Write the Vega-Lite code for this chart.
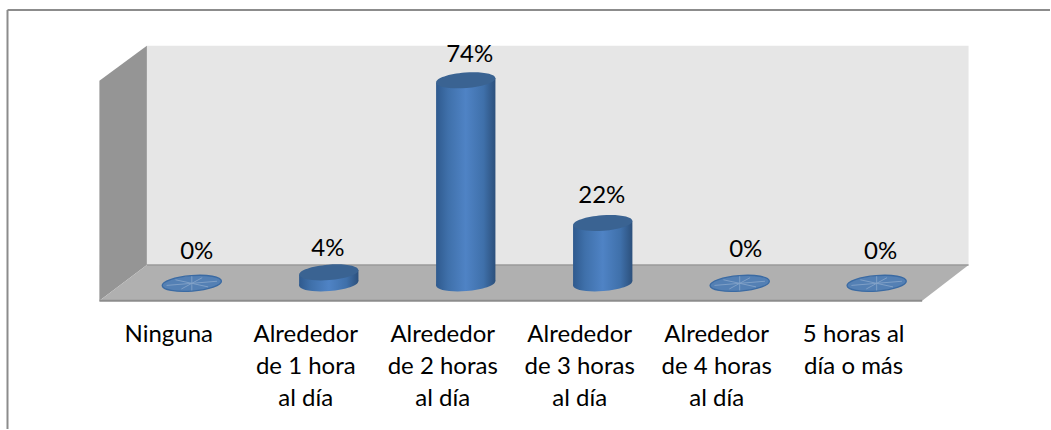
{
"$schema":"https://vega.github.io/schema/vega-lite/v6.json",
"width":1051,"height":430,
"autosize":{"type":"fit","contains":"padding"},
"padding":0,
"background":"white",
"config":{"view":{"stroke":null}},
"datasets":{
"cats":[
{"categoria":"Ninguna","i":0,"valor":0,"etiqueta":"Ninguna"},
{"categoria":"Alrededor de 1 hora al día","i":1,"valor":4,"etiqueta":"Alrededor\nde 1 hora\nal día"},
{"categoria":"Alrededor de 2 horas al día","i":2,"valor":74,"etiqueta":"Alrededor\nde 2 horas\nal día"},
{"categoria":"Alrededor de 3 horas al día","i":3,"valor":22,"etiqueta":"Alrededor\nde 3 horas\nal día"},
{"categoria":"Alrededor de 4 horas al día","i":4,"valor":0,"etiqueta":"Alrededor\nde 4 horas\nal día"},
{"categoria":"5 horas al día o más","i":5,"valor":0,"etiqueta":"5 horas al\ndía o más"}
]},
"encoding":{
"x":{"type":"quantitative","scale":{"domain":[-1.4004,6.2655],"nice":false,"zero":false},"axis":null},
"y":{"type":"quantitative","scale":{"domain":[-53.09,103.27],"nice":false,"zero":false},"axis":null}
},
"layer":[
{"data":{"values":[{"a":-1.3457,"t":99.64,"b":-53.09}]},"mark":{"type":"rule","stroke":"#8c8c8c","strokeWidth":2},
 "encoding":{"x":{"field":"a","type":"quantitative"},"y":{"field":"t","type":"quantitative"},"y2":{"field":"b"}}},
{"data":{"values":[{"a":-1.3457,"c":6.2655,"t":99.64}]},"mark":{"type":"rule","stroke":"#8c8c8c","strokeWidth":2},
 "encoding":{"x":{"field":"a","type":"quantitative"},"x2":{"field":"c"},"y":{"field":"t","type":"quantitative"}}},
{"data":{"values":[{"a":-0.3282,"t":86.55,"b":6.727},{"a":5.671,"t":86.55,"b":6.727}]},"mark":{"type":"area","fill":"#e6e6e6","opacity":1},
 "encoding":{"x":{"field":"a","type":"quantitative"},"y":{"field":"t","type":"quantitative"},"y2":{"field":"b"}}},
{"data":{"values":[{"a":-0.6747,"t":73.82,"b":-6.364},{"a":-0.3282,"t":86.55,"b":6.727}]},"mark":{"type":"area","fill":"#959595","opacity":1},
 "encoding":{"x":{"field":"a","type":"quantitative"},"y":{"field":"t","type":"quantitative"},"y2":{"field":"b"}}},
{"data":{"values":[{"a":-0.6747,"t":-6.364,"b":-6.364},{"a":-0.3282,"t":6.727,"b":-6.364},{"a":5.332,"t":6.727,"b":-6.364},{"a":5.671,"t":6.727,"b":6.727}]},"mark":{"type":"area","fill":"#b0b0b0","opacity":1},
 "encoding":{"x":{"field":"a","type":"quantitative"},"y":{"field":"t","type":"quantitative"},"y2":{"field":"b"}}},
{"data":{"values":[{"a":-0.3282,"c":5.671,"t":6.727}]},"mark":{"type":"rule","stroke":"#9a9a9a","strokeWidth":1.5},
 "encoding":{"x":{"field":"a","type":"quantitative"},"x2":{"field":"c"},"y":{"field":"t","type":"quantitative"}}},
{"data":{"values":[{"a":-0.6747,"c":5.332,"t":-6.364}]},"mark":{"type":"rule","stroke":"#8c8c8c","strokeWidth":2},
 "encoding":{"x":{"field":"a","type":"quantitative"},"x2":{"field":"c"},"y":{"field":"t","type":"quantitative"}}},
{"data":{"name":"cats"},
 "transform":[{"filter":"datum.valor==0"}],
 "mark":{"type":"point","filled":true,"fill":"#5480b4","stroke":"#3a6aa3","strokeWidth":1.3,"opacity":1,"size":3528,
  "shape":"M0.9969,-0.0785 C1.0082,0.0647,0.571,0.2158,0.0204,0.2592 C-0.5302,0.3026,-0.9856,0.2217,-0.9969,0.0785 C-1.0082,-0.0647,-0.571,-0.2158,-0.0204,-0.2592 C0.5302,-0.3026,0.9856,-0.2217,0.9969,-0.0785 Z"},
 "encoding":{"x":{"field":"i","type":"quantitative"},"y":{"datum":0,"type":"quantitative"}}},
{"data":{"name":"cats"},
 "transform":[{"filter":"datum.valor==0"}],
 "mark":{"type":"point","filled":false,"stroke":"#9db6d4","strokeWidth":0.9,"opacity":0.65,"size":3528,
  "shape":"M-0.85,0.07 L0.85,-0.07 M-0.55,-0.12 L0.55,0.12 M-0.35,0.19 L0.35,-0.19 M0,-0.24 L0,0.24"},
 "encoding":{"x":{"field":"i","type":"quantitative"},"y":{"datum":0,"type":"quantitative"}}},
{"data":{"name":"cats"},
 "transform":[{"filter":"datum.valor>0"}],
 "mark":{"type":"point","filled":true,"opacity":1,"size":3528,"strokeWidth":0,
  "fill":{"gradient":"linear","x1":0,"x2":1,"y1":0,"y2":0,"stops":[{"offset":0,"color":"#2f5a8e"},{"offset":0.2,"color":"#3f70aa"},{"offset":0.5,"color":"#4f83c5"},{"offset":0.8,"color":"#3f70aa"},{"offset":1,"color":"#2c507c"}]},
  "shape":"M0.9969,-0.0785 C1.0082,0.0647,0.571,0.2158,0.0204,0.2592 C-0.5302,0.3026,-0.9856,0.2217,-0.9969,0.0785 C-1.0082,-0.0647,-0.571,-0.2158,-0.0204,-0.2592 C0.5302,-0.3026,0.9856,-0.2217,0.9969,-0.0785 Z"},
 "encoding":{"x":{"field":"i","type":"quantitative"},"y":{"datum":0,"type":"quantitative"}}},
{"data":{"name":"cats"},
 "transform":[{"filter":"datum.valor>0"},{"calculate":"[-1,1]","as":"lado"},{"flatten":["lado"]},
  {"calculate":"datum.i+datum.lado*0.2166","as":"xc"},{"calculate":"datum.valor+datum.lado*0.85","as":"sup"},{"calculate":"datum.lado*0.85","as":"inf"}],
 "mark":{"type":"area","opacity":1,
  "fill":{"gradient":"linear","x1":0,"x2":1,"y1":0,"y2":0,"stops":[{"offset":0,"color":"#2f5a8e"},{"offset":0.2,"color":"#3f70aa"},{"offset":0.5,"color":"#4f83c5"},{"offset":0.8,"color":"#3f70aa"},{"offset":1,"color":"#2c507c"}]}},
 "encoding":{"x":{"field":"xc","type":"quantitative"},"y":{"field":"sup","type":"quantitative"},"y2":{"field":"inf"},"detail":{"field":"categoria"}}},
{"data":{"name":"cats"},
 "transform":[{"filter":"datum.valor>0"}],
 "mark":{"type":"point","filled":true,"fill":"#3a6392","opacity":1,"size":3528,"strokeWidth":0,
  "shape":"M0.9969,-0.0785 C1.0082,0.0647,0.571,0.2158,0.0204,0.2592 C-0.5302,0.3026,-0.9856,0.2217,-0.9969,0.0785 C-1.0082,-0.0647,-0.571,-0.2158,-0.0204,-0.2592 C0.5302,-0.3026,0.9856,-0.2217,0.9969,-0.0785 Z"},
 "encoding":{"x":{"field":"i","type":"quantitative"},"y":{"field":"valor","type":"quantitative"}}},
{"data":{"name":"cats"},
 "transform":[
  {"calculate":"datum.i+[0.036,-0.007,0.029,-0.007,0.044,0.029][datum.i]","as":"xe"},
  {"calculate":"datum.valor+[11.6,8.4,9.3,10,12.3,11.6][datum.i]","as":"ye"},
  {"calculate":"datum.valor+'%'","as":"texto"}],
 "mark":{"type":"text","font":"Lato","fontSize":24,"fill":"#000000","align":"center","baseline":"middle"},
 "encoding":{"x":{"field":"xe","type":"quantitative"},"y":{"field":"ye","type":"quantitative"},"text":{"field":"texto"}}},
{"data":{"name":"cats"},
 "transform":[{"calculate":"datum.i-0.168","as":"xl"}],
 "mark":{"type":"text","font":"Lato","fontSize":24,"fill":"#000000","align":"center","baseline":"top","lineBreak":"\n","lineHeight":32},
 "encoding":{"x":{"field":"xl","type":"quantitative"},"y":{"datum":-14.5,"type":"quantitative"},"text":{"field":"etiqueta"}}}
]
}
